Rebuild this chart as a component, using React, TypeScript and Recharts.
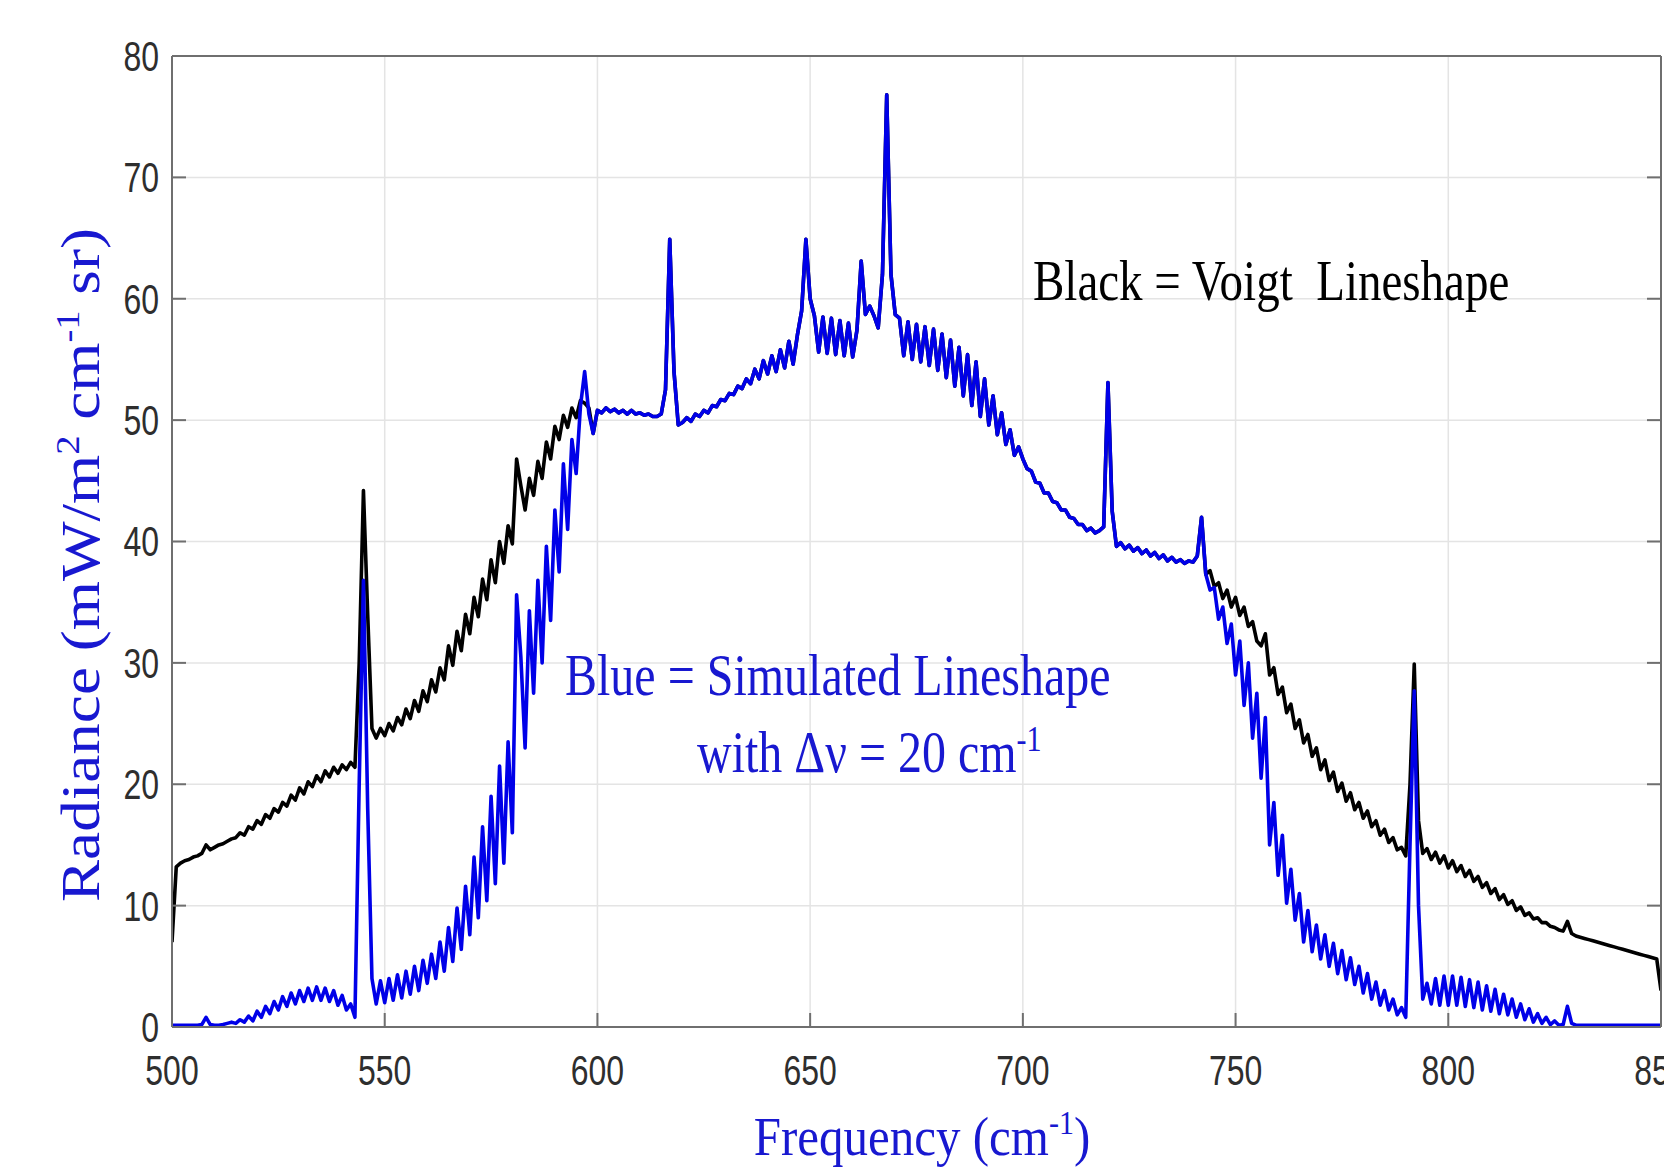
import React from 'react';
import { LineChart, Line, XAxis, YAxis, CartesianGrid, Customized } from 'recharts';

// Frequency grid starts at 500 cm-1, one value per cm-1
const START_FREQ = 500;

// Voigt (black) radiance, 500-598 cm-1
const BLACK_LOW = [
    7.0, 13.2, 13.5, 13.7, 13.8, 14.0, 14.1, 14.3, 15.0, 14.6,
    14.8, 15.0, 15.1, 15.3, 15.5, 15.6, 16.0, 15.8, 16.5, 16.3,
    17.0, 16.7, 17.5, 17.2, 18.0, 17.7, 18.5, 18.2, 19.1, 18.7,
    19.7, 19.2, 20.2, 19.8, 20.7, 20.2, 21.1, 20.6, 21.4, 20.9,
    21.6, 21.2, 21.8, 21.4, 30.0, 44.2, 34.0, 24.6, 23.8, 24.6,
    24.0, 25.0, 24.4, 25.5, 24.9, 26.2, 25.4, 26.9, 26.0, 27.7,
    26.8, 28.6, 27.6, 29.6, 28.6, 31.4, 29.8, 32.6, 31.0, 34.0,
    32.4, 35.4, 33.8, 36.9, 35.2, 38.5, 36.6, 40.0, 38.2, 41.3,
    39.8, 46.8, 44.6, 42.6, 45.2, 43.8, 46.6, 45.2, 48.2, 46.8,
    49.5, 48.4, 50.4, 49.4, 51.0, 50.2, 51.6, 51.4, 51.0
];

// Simulated (blue) radiance, 500-598 cm-1
const BLUE_LOW = [
    0.15, 0.15, 0.15, 0.15, 0.15, 0.15, 0.15, 0.2, 0.8, 0.2,
    0.15, 0.15, 0.2, 0.3, 0.4, 0.3, 0.6, 0.4, 0.9, 0.5,
    1.3, 0.8, 1.7, 1.1, 2.1, 1.4, 2.5, 1.7, 2.8, 1.9,
    3.0, 2.1, 3.2, 2.2, 3.3, 2.2, 3.2, 2.1, 3.0, 1.8,
    2.6, 1.4, 1.9, 0.8, 20.0, 36.8, 18.0, 4.0, 1.9, 3.8,
    2.0, 4.0, 2.2, 4.3, 2.4, 4.6, 2.7, 5.0, 3.0, 5.5,
    3.6, 6.0, 4.0, 7.0, 4.6, 8.2, 5.4, 9.8, 6.4, 11.6,
    7.6, 14.0, 9.0, 16.5, 10.4, 19.0, 11.8, 21.5, 13.5, 23.5,
    16.0, 35.6, 30.5, 23.0, 34.3, 27.5, 36.8, 30.0, 39.6, 33.5,
    42.6, 37.5, 46.4, 41.0, 48.4, 45.6, 51.1, 54.0, 50.5
];

// 599-742 cm-1: both lineshapes coincide (blue drawn over black)
const SHARED_MID = [
    48.9, 50.8, 50.6, 51.0, 50.7, 50.9, 50.6, 50.8, 50.5, 50.8,
    50.5, 50.6, 50.4, 50.5, 50.3, 50.3, 50.5, 52.5, 64.9, 54.0,
    49.6, 49.8, 50.2, 49.9, 50.5, 50.3, 50.8, 50.6, 51.2, 51.1,
    51.7, 51.6, 52.2, 52.1, 52.8, 52.6, 53.4, 53.0, 54.2, 53.4,
    54.9, 53.8, 55.3, 54.0, 55.8, 54.3, 56.5, 54.6, 57.0, 59.0,
    64.9, 60.0, 58.6, 55.6, 58.5, 55.5, 58.4, 55.4, 58.2, 55.3,
    58.0, 55.2, 57.4, 63.1, 58.7, 59.4, 58.6, 57.6, 62.0, 76.8,
    62.0, 58.7, 58.4, 55.3, 58.1, 55.0, 57.9, 54.8, 57.7, 54.5,
    57.5, 54.1, 57.1, 53.5, 56.6, 52.8, 56.0, 52.0, 55.4, 51.2,
    54.8, 50.3, 53.4, 49.6, 52.0, 48.8, 50.6, 48.0, 49.2, 47.1,
    47.8, 46.8, 46.0, 45.8, 44.9, 44.8, 44.0, 44.0, 43.3, 43.2,
    42.6, 42.6, 42.0, 41.9, 41.4, 41.4, 40.9, 41.1, 40.7, 40.9,
    41.2, 53.1, 42.5, 39.6, 39.9, 39.4, 39.7, 39.2, 39.5, 39.0,
    39.3, 38.8, 39.1, 38.6, 38.9, 38.4, 38.7, 38.3, 38.5, 38.2,
    38.4, 38.3, 38.8, 42.0
];

// Voigt (black) radiance, 743-850 cm-1
const BLACK_HIGH = [
    37.3, 37.6, 36.3, 36.6, 35.3, 36.0, 34.6, 35.4, 33.9, 34.6,
    33.0, 33.4, 31.8, 31.4, 32.4, 29.0, 29.6, 27.4, 28.0, 25.9,
    26.6, 24.6, 25.3, 23.4, 24.1, 22.3, 23.0, 21.2, 22.0, 20.3,
    21.0, 19.4, 20.1, 18.6, 19.3, 17.9, 18.5, 17.2, 17.8, 16.5,
    17.0, 15.8, 16.3, 15.2, 15.6, 14.6, 14.8, 14.1, 20.0, 29.9,
    17.0, 14.3, 14.7, 13.8, 14.4, 13.5, 14.1, 13.1, 13.7, 12.8,
    13.3, 12.4, 12.9, 12.0, 12.4, 11.5, 11.9, 11.0, 11.4, 10.5,
    10.9, 10.1, 10.4, 9.6, 9.9, 9.2, 9.4, 8.9, 9.0, 8.6,
    8.6, 8.3, 8.2, 8.0, 7.9, 8.7, 7.7, 7.5, 7.4, 7.3,
    7.2, 7.1, 7.0, 6.9, 6.8, 6.7, 6.6, 6.5, 6.4, 6.3,
    6.2, 6.1, 6.0, 5.9, 5.8, 5.7, 5.6, 3.0
];

// Simulated (blue) radiance, 743-850 cm-1
const BLUE_HIGH = [
    37.3, 36.0, 36.2, 33.6, 34.6, 31.6, 33.2, 29.0, 31.8, 26.5,
    30.0, 23.8, 27.5, 20.5, 25.5, 15.0, 18.5, 12.5, 15.8, 10.2,
    13.0, 8.8, 11.0, 7.0, 9.6, 6.2, 8.4, 5.6, 7.6, 5.0,
    6.9, 4.4, 6.3, 3.9, 5.7, 3.5, 5.0, 2.8, 4.4, 2.3,
    3.7, 1.8, 3.0, 1.4, 2.3, 1.0, 1.6, 0.8, 15.0, 27.7,
    10.0, 2.3, 3.6, 1.9, 4.0, 1.8, 4.2, 1.8, 4.2, 1.8,
    4.1, 1.7, 3.9, 1.6, 3.7, 1.4, 3.4, 1.3, 3.1, 1.1,
    2.7, 1.0, 2.3, 0.8, 1.9, 0.6, 1.5, 0.4, 1.1, 0.3,
    0.8, 0.2, 0.5, 0.15, 0.2, 1.7, 0.3, 0.15, 0.15, 0.15,
    0.15, 0.15, 0.15, 0.15, 0.15, 0.15, 0.15, 0.15, 0.15, 0.15,
    0.15, 0.15, 0.15, 0.15, 0.15, 0.15, 0.15, 0.15
];

const X_TICKS = [500, 550, 600, 650, 700, 750, 800, 850];
const Y_TICKS = [0, 10, 20, 30, 40, 50, 60, 70, 80];

const blackValues = [...BLACK_LOW, ...SHARED_MID, ...BLACK_HIGH];
const blueValues = [...BLUE_LOW, ...SHARED_MID, ...BLUE_HIGH];

const data = blackValues.map((v, i) => ({
    freq: START_FREQ + i,
    voigt: v,
    simulated: blueValues[i],
}));

const AXIS_COLOR = '#6f6f6f';
const TICK_COLOR = '#2e2e2e';
const BLUE_LINE = '#0000e8';
const BLUE_TEXT = '#1818d0';
const SANS = '"Liberation Sans", Arial, sans-serif';
const SERIF = '"Liberation Serif", "Times New Roman", serif';
const TICK_STRETCH = 1.3;

function BottomTick({ x, y, payload }: any) {
    return (
        <g transform={`translate(${x},${y}) scale(1,${TICK_STRETCH})`}>
            <text textAnchor="middle" dy="0.72em" fontSize={32} fontFamily={SANS} fill={TICK_COLOR}>
                {payload.value}
            </text>
        </g>
    );
}

function LeftTick({ x, y, payload }: any) {
    return (
        <g transform={`translate(${x},${y}) scale(1,${TICK_STRETCH})`}>
            <text textAnchor="end" dy="0.36em" fontSize={32} fontFamily={SANS} fill={TICK_COLOR}>
                {payload.value}
            </text>
        </g>
    );
}

const NoLabel = () => <g />;

// Axis titles and in-plot notes
function Annotations() {
    return (
        <g>
            <g transform="translate(1033,300) scale(1,1.22)">
                <text fontSize={47} fontFamily={SERIF} fill="#000" style={{ whiteSpace: 'pre' }}>
                    {'Black = Voigt  Lineshape'}
                </text>
            </g>
            <g transform="translate(565,695) scale(1,1.22)">
                <text fontSize={48} fontFamily={SERIF} fill={BLUE_TEXT}>Blue = Simulated Lineshape</text>
            </g>
            <g transform="translate(697,772) scale(1,1.22)">
                <text fontSize={48} fontFamily={SERIF} fill={BLUE_TEXT}>
                    with Δν = 20 cm<tspan fontSize={30} dy={-17}>-1</tspan>
                </text>
            </g>
            <g transform="translate(922,1155) scale(1,1.14)">
                <text textAnchor="middle" fontSize={49} fontFamily={SERIF} fill={BLUE_TEXT}>
                    Frequency (cm<tspan fontSize={30} dy={-18}>-1</tspan><tspan dy={18}>)</tspan>
                </text>
            </g>
            <g transform="translate(99,565) rotate(-90) scale(1.17,1)">
                <text textAnchor="middle" fontSize={54} fontFamily={SERIF} fill={BLUE_TEXT}>
                    Radiance (mW/m<tspan fontSize={33} dy={-20}>2</tspan>
                    <tspan dy={20}> cm</tspan><tspan fontSize={33} dy={-20}>-1</tspan>
                    <tspan dy={20}> sr)</tspan>
                </text>
            </g>
        </g>
    );
}

export default function App() {
    return (
        <div style={{ position: 'absolute', left: 0, top: 0, background: '#fff' }}>
            <LineChart
                width={1664}
                height={1169}
                data={data}
                margin={{ top: 55, right: 2, bottom: 0, left: 0 }}
            >
                <CartesianGrid stroke="#e4e4e4" strokeWidth={1.5} />
                <XAxis
                    dataKey="freq"
                    type="number"
                    domain={[500, 850]}
                    ticks={X_TICKS}
                    allowDataOverflow
                    height={142}
                    axisLine={{ stroke: AXIS_COLOR, strokeWidth: 2 }}
                    tickLine={{ stroke: AXIS_COLOR, strokeWidth: 2 }}
                    tickSize={-14}
                    tickMargin={42}
                    tick={<BottomTick />}
                    interval={0}
                />
                <XAxis
                    xAxisId="top"
                    orientation="top"
                    type="number"
                    domain={[500, 850]}
                    ticks={X_TICKS}
                    allowDataOverflow
                    height={1}
                    axisLine={{ stroke: AXIS_COLOR, strokeWidth: 2 }}
                    tickLine={{ stroke: AXIS_COLOR, strokeWidth: 2 }}
                    tickSize={-14}
                    tick={<NoLabel />}
                    interval={0}
                />
                <YAxis
                    type="number"
                    domain={[0, 80]}
                    ticks={Y_TICKS}
                    allowDataOverflow
                    width={172}
                    axisLine={{ stroke: AXIS_COLOR, strokeWidth: 2 }}
                    tickLine={{ stroke: AXIS_COLOR, strokeWidth: 2 }}
                    tickSize={-14}
                    tickMargin={27}
                    tick={<LeftTick />}
                    interval={0}
                />
                <YAxis
                    yAxisId="right"
                    orientation="right"
                    type="number"
                    domain={[0, 80]}
                    ticks={Y_TICKS}
                    allowDataOverflow
                    width={1}
                    axisLine={{ stroke: AXIS_COLOR, strokeWidth: 2 }}
                    tickLine={{ stroke: AXIS_COLOR, strokeWidth: 2 }}
                    tickSize={-14}
                    tick={<NoLabel />}
                    interval={0}
                />
                <Line
                    type="linear"
                    dataKey="voigt"
                    stroke="#000"
                    strokeWidth={3.6}
                    strokeLinejoin="round"
                    dot={false}
                    isAnimationActive={false}
                />
                <Line
                    type="linear"
                    dataKey="simulated"
                    stroke={BLUE_LINE}
                    strokeWidth={3.6}
                    strokeLinejoin="round"
                    dot={false}
                    isAnimationActive={false}
                />
                <Customized component={Annotations} />
            </LineChart>
        </div>
    );
}
